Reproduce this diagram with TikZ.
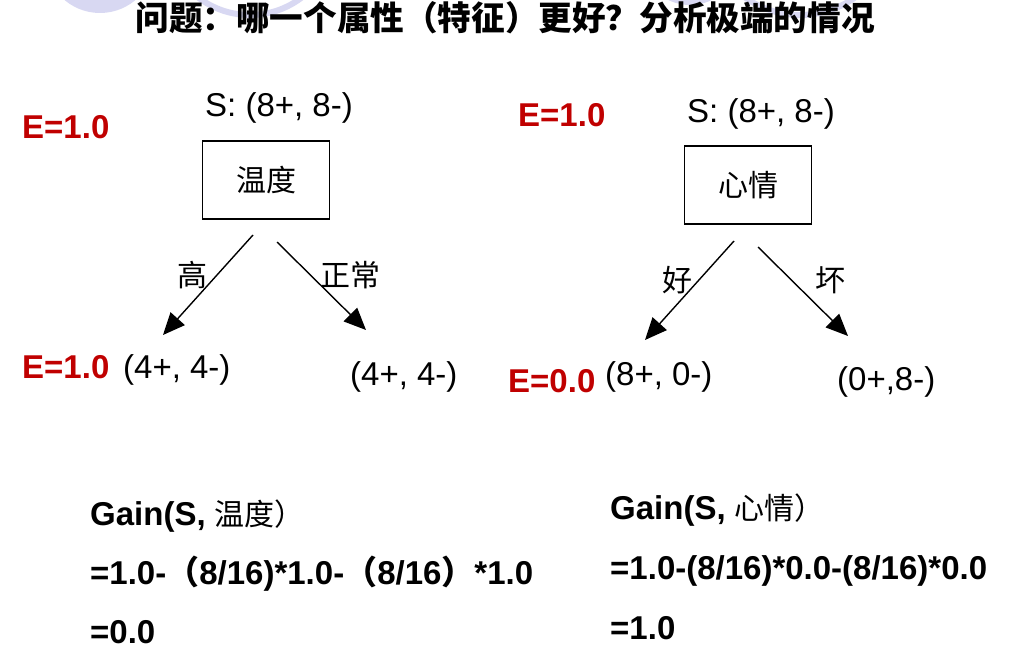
\documentclass[tikz,border=0pt]{standalone}
\usepackage{fontspec}
\setmainfont{Liberation Sans}
\newfontfamily\cjk{Noto Sans CJK SC}
\usetikzlibrary{arrows.meta}
\definecolor{entred}{RGB}{192,0,0}
\definecolor{deco}{RGB}{216,216,242}
\tikzset{
  txt/.style={inner sep=0pt, anchor=base west, font=\fontsize{33}{38}\selectfont},
  ent/.style={txt, text=entred, font=\bfseries\fontsize{33}{38}\selectfont},
  gain/.style={txt, font=\bfseries\fontsize{33}{38}\selectfont},
  attr/.style={draw, line width=1.2pt, minimum width=127pt, minimum height=78pt,
    inner sep=0pt, font=\cjk\fontsize{30}{36}\selectfont},
  lab/.style={inner sep=0pt, font=\cjk\fontsize{30}{36}\selectfont},
  branch/.style={line width=1.4pt, -{Triangle[length=22pt,width=19pt]}},
}
\begin{document}
\begin{tikzpicture}[x=1pt,y=-1pt]
  \useasboundingbox (0,0) rectangle (1014,652);
  % slide decoration at the top
  \begin{scope}
    \clip (0,0) rectangle (1014,652);
    \fill[deco] (100,-42) circle (55);
    \draw[deco, line width=6pt] (250,-70) circle (85);
    \fill[deco] (690,-45) circle (50);
    \draw[deco, line width=6pt] (800,-80) circle (95);
  \end{scope}

  \node[inner sep=0pt, font=\bfseries\cjk\fontsize{33.6}{38}\selectfont] (title) at (505,18)
    {问题：哪一个属性（特征）更好？分析极端的情况};

  % left tree
  \node[ent] (e1) at (22,139) {E=1.0};
  \node[txt] (s1) at (205,117) {S: (8+, 8-)};
  \node[attr] (temp) at (266,180) {温度};
  \node[ent] (e2) at (22,378) {E=1.0};
  \node[txt] (hi) at (123,378) {(4+, 4-)};
  \node[txt] (norm) at (350,385) {(4+, 4-)};
  \coordinate (a1s) at (253,235);
  \coordinate (a1e) at (163,335);
  \coordinate (a2s) at (277,242);
  \coordinate (a2e) at (366,330);
  \draw[branch] (a1s) -- (a1e);
  \draw[branch] (a2s) -- (a2e);
  \node[lab] (l1) at (192,275) {高};
  \node[lab] (l2) at (350,275) {正常};

  % right tree
  \node[ent] (e3) at (518,127) {E=1.0};
  \node[txt] (s2) at (687,123) {S: (8+, 8-)};
  \node[attr] (mood) at (748,185) {心情};
  \node[ent] (e4) at (508,392) {E=0.0};
  \node[txt] (good) at (605,385) {(8+, 0-)};
  \node[txt] (bad) at (837,390) {(0+,8-)};
  \coordinate (b1s) at (734,241);
  \coordinate (b1e) at (645,340);
  \coordinate (b2s) at (758,247);
  \coordinate (b2e) at (848,336);
  \draw[branch] (b1s) -- (b1e);
  \draw[branch] (b2s) -- (b2e);
  \node[lab] (l3) at (677,280) {好};
  \node[lab] (l4) at (830,280) {坏};

  % gains
  \node[gain] (g1) at (90,525) {Gain(S, {\mdseries\cjk\fontsize{30}{34}\selectfont 温度）}};
  \node[gain] (g2) at (90,584) {=1.0-{\cjk（}8/16)*1.0-{\cjk（}8/16{\cjk）}*1.0};
  \node[gain] (g3) at (90,643) {=0.0};
  \node[gain] (g4) at (610,519) {Gain(S, {\mdseries\cjk\fontsize{30}{34}\selectfont 心情）}};
  \node[gain] (g5) at (610,579) {=1.0-(8/16)*0.0-(8/16)*0.0};
  \node[gain] (g6) at (610,639) {=1.0};
\end{tikzpicture}
\end{document}
